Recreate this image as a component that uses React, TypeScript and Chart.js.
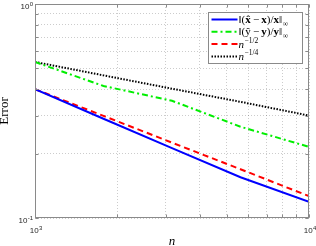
import React, { useEffect, useRef } from 'react';
import { Chart, registerables } from 'chart.js';
Chart.register(...registerables);

const nValues = [1000, 1778, 3162, 5623, 10000];
const errX = [0.4, 0.291, 0.212, 0.155, 0.119];
const errY = [0.536, 0.414, 0.353, 0.267, 0.215];
const refHalf = [0.4, 0.3, 0.225, 0.169, 0.1265];
const refQuarter = [0.536, 0.464, 0.402, 0.349, 0.301];
const seriesLabels = ['‖(x̂ − x)/x‖_∞', '‖(ŷ − y)/y‖_∞', 'n^−1/2', 'n^−1/4'];
const seriesColors = ['#0000ff', '#00ee00', '#ff0000', '#000000'];
const xTickValues = [1000, 2000, 3000, 4000, 5000, 6000, 7000, 8000, 9000, 10000];
const yTickValues = [0.1, 0.2, 0.3, 0.4, 0.5, 0.6, 0.7, 0.8, 0.9, 1];
// labelled ticks: [value, base, exponent]
const xTickLabels: [number, string, string][] = [[1000, '10', '3'], [10000, '10', '4']];
const yTickLabels: [number, string, string][] = [[0.1, '10', '-1'], [1, '10', '0']];
const xTitle = 'n';
const yTitle = 'Error';

const SANS = "'Liberation Sans', Arial, sans-serif";
const SERIF = "'Liberation Serif', 'DejaVu Serif', serif";

function drawMath(ctx: CanvasRenderingContext2D, label: string, x: number, y: number) {
  const m = label.match(/^([^_^]*)([_^])?(.*)$/)!;
  const main = m[1];
  const kind = m[2];
  const script = m[3] || '';
  ctx.textBaseline = 'alphabetic';
  ctx.textAlign = 'left';
  ctx.fillStyle = '#000';
  let cx = x;
  const chars = Array.from(main);
  for (let i = 0; i < chars.length; i++) {
    let ch = chars[i];
    let font = `11px ${SERIF}`;
    if (ch === 'x' || ch === 'y') {
      font = `bold 11px ${SERIF}`;
      if (chars[i + 1] === '\u0302') {
        ch += '\u0302';
        i++;
      }
    } else if (ch === 'n') {
      font = `italic 11px ${SERIF}`;
    } else if (ch === ' ') {
      cx += 2.2;
      continue;
    }
    ctx.font = font;
    ctx.fillText(ch, cx, y);
    cx += ctx.measureText(ch).width;
  }
  if (kind) {
    ctx.font = `7.5px ${SERIF}`;
    const dy = kind === '_' ? 2.5 : -5;
    ctx.fillText(script, cx + 0.5, y + dy);
  }
}

function drawPow(ctx: CanvasRenderingContext2D, base: string, exp: string, x: number, y: number, align: 'right' | 'center') {
  ctx.font = `8px ${SANS}`;
  const wb = ctx.measureText(base).width;
  ctx.font = `6px ${SANS}`;
  const we = ctx.measureText(exp).width;
  const total = wb + we + 0.3;
  const x0 = align === 'right' ? x - total : x - total / 2;
  ctx.textAlign = 'left';
  ctx.textBaseline = 'alphabetic';
  ctx.fillStyle = '#262626';
  ctx.font = `8px ${SANS}`;
  ctx.fillText(base, x0, y);
  ctx.font = `6px ${SANS}`;
  ctx.fillText(exp, x0 + wb + 0.3, y - 3.5);
}

const framePlugin = {
  id: 'matlabFrame',
  afterDatasetsDraw(chart: any) {
    const ctx: CanvasRenderingContext2D = chart.ctx;
    const { left, right, top, bottom } = chart.chartArea;
    const L = Math.round(left) + 0.5;
    const R = Math.round(right) - 0.5;
    const T = Math.round(top) + 0.5;
    const B = Math.round(bottom) - 0.5;
    ctx.save();
    ctx.strokeStyle = '#8a8a8a';
    ctx.lineWidth = 1;
    ctx.setLineDash([]);
    ctx.strokeRect(L, T, R - L, B - T);
    const tl = 3;
    ctx.beginPath();
    chart.scales.x.ticks.forEach((t: any) => {
      const px = Math.round(chart.scales.x.getPixelForValue(t.value)) + 0.5;
      ctx.moveTo(px, B);
      ctx.lineTo(px, B - tl);
      ctx.moveTo(px, T);
      ctx.lineTo(px, T + tl);
    });
    chart.scales.y.ticks.forEach((t: any) => {
      const py = Math.round(chart.scales.y.getPixelForValue(t.value)) + 0.5;
      ctx.moveTo(L, py);
      ctx.lineTo(L + tl, py);
      ctx.moveTo(R, py);
      ctx.lineTo(R - tl, py);
    });
    ctx.stroke();

    // tick labels with exponents
    xTickLabels.forEach(([v, b, e]) => {
      const px = chart.scales.x.getPixelForValue(v);
      drawPow(ctx, b, e, px + 1, bottom + 15, 'center');
    });
    yTickLabels.forEach(([v, b, e]) => {
      const py = chart.scales.y.getPixelForValue(v);
      drawPow(ctx, b, e, left - 2, py + 5, 'right');
    });

    // legend
    const bw = 94;
    const bh = 51;
    const bx = Math.round(right) - 7 - bw + 0.5;
    const by = Math.round(top) + 8 + 0.5;
    ctx.fillStyle = '#ffffff';
    ctx.fillRect(bx, by, bw, bh);
    ctx.strokeStyle = '#8a8a8a';
    ctx.strokeRect(bx, by, bw, bh);
    chart.data.datasets.forEach((ds: any, i: number) => {
      const ry = by + 7 + i * 12.3;
      ctx.strokeStyle = ds.borderColor;
      ctx.lineWidth = 2;
      ctx.setLineDash(ds.borderDash || []);
      ctx.beginPath();
      ctx.moveTo(bx + 3, ry);
      ctx.lineTo(bx + 29, ry);
      ctx.stroke();
      ctx.setLineDash([]);
      drawMath(ctx, ds.label, bx + 30, ry + 3.5);
    });
    ctx.restore();
  },
};

export default function App() {
  const ref = useRef<HTMLCanvasElement>(null);
  useEffect(() => {
    if (!ref.current) return;
    const dashes = [[], [6, 3, 2, 3], [6, 4], [1.5, 1.5]];
    const series = [errX, errY, refHalf, refQuarter];
    const chart = new Chart(ref.current, {
      type: 'line',
      data: {
        datasets: series.map((vals, i) => ({
          label: seriesLabels[i],
          data: nValues.map((n, j) => ({ x: n, y: vals[j] })),
          borderColor: seriesColors[i],
          backgroundColor: seriesColors[i],
          borderWidth: 2,
          borderDash: dashes[i],
          pointRadius: 0,
          tension: 0,
          fill: false,
        })),
      },
      options: {
        animation: false,
        responsive: false,
        layout: { padding: { left: 0, top: 4, right: 7, bottom: 0 } },
        plugins: { legend: { display: false }, tooltip: { enabled: false } },
        scales: {
          x: {
            type: 'logarithmic',
            min: 1000,
            max: 10000,
            afterBuildTicks: (s: any) => {
              s.ticks = xTickValues.map((v) => ({ value: v }));
            },
            grid: { color: 'rgba(0,0,0,0.2)', lineWidth: 1, drawTicks: false },
            border: { display: false, dash: [1, 2] },
            ticks: { display: false },
            title: {
              display: true,
              text: xTitle,
              color: '#000',
              padding: 0,
              font: { family: SERIF, style: 'italic', size: 13, lineHeight: '8px' },
            },
            afterFit: (s: any) => {
              s.height = 28;
              s.paddingLeft = 0;
              s.paddingRight = 0;
            },
          },
          y: {
            type: 'logarithmic',
            min: 0.1,
            max: 1,
            afterBuildTicks: (s: any) => {
              s.ticks = yTickValues.map((v) => ({ value: v }));
            },
            grid: { color: 'rgba(0,0,0,0.2)', lineWidth: 1, drawTicks: false },
            border: { display: false, dash: [1, 2] },
            ticks: { display: false },
            title: {
              display: true,
              text: yTitle,
              color: '#000',
              padding: 0,
              font: { family: SERIF, size: 13, lineHeight: '10px' },
            },
            afterFit: (s: any) => {
              s.width = 35;
              s.paddingTop = 0;
              s.paddingBottom = 0;
            },
          },
        },
      },
      plugins: [framePlugin],
    } as any);
    return () => chart.destroy();
  }, []);
  return (
    <div style={{ position: 'fixed', left: 0, top: 0, width: 316, height: 246, background: '#fff' }}>
      <canvas ref={ref} width={316} height={246} style={{ display: 'block' }} />
    </div>
  );
}
